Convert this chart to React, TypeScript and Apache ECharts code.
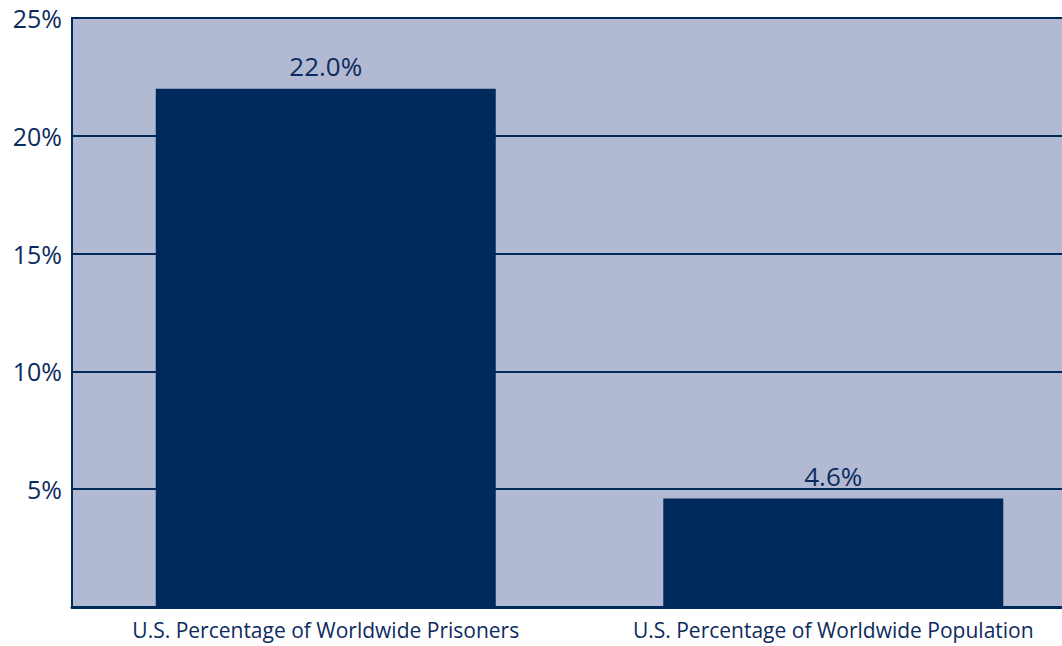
import React, { useEffect, useRef } from "react";
import * as echarts from "echarts";

const categories = [
  "U.S. Percentage of Worldwide Prisoners",
  "U.S. Percentage of Worldwide Population",
];
const values = [22.0, 4.6];
const valueLabels = ["22.0%", "4.6%"];
const yTicks = [0, 5, 10, 15, 20, 25];

const NAVY = "#002a5c";
const TEXT = "#0d2b5e";
const FONT = "'Open Sans', Lato, sans-serif";

export default function App() {
  const ref = useRef<HTMLDivElement>(null);
  useEffect(() => {
    document.body.style.margin = "0";
    document.body.style.overflow = "hidden";
    document.documentElement.style.overflow = "hidden";
    if (!ref.current) return;
    const chart = echarts.init(ref.current, undefined, { renderer: "svg" });
    chart.setOption({
      animation: false,
      grid: {
        left: 72,
        top: 18,
        bottom: 39,
        right: 13,
        show: true,
        backgroundColor: "#b2b9d3",
        borderColor: NAVY,
        borderWidth: 2,
      },
      xAxis: {
        type: "category",
        data: categories,
        axisLine: { show: true, lineStyle: { color: NAVY, width: 3 } },
        axisTick: { show: false },
        axisLabel: {
          interval: 0,
          hideOverlap: false,
          color: TEXT,
          fontFamily: FONT,
          fontSize: 21,
          margin: 12,
        },
      },
      yAxis: {
        type: "value",
        min: yTicks[0],
        max: yTicks[yTicks.length - 1],
        interval: 5,
        axisLine: { show: true, lineStyle: { color: NAVY, width: 2 } },
        axisTick: { show: false },
        splitLine: { show: true, lineStyle: { color: NAVY, width: 2 } },
        axisLabel: {
          color: TEXT,
          fontFamily: FONT,
          fontSize: 25,
          margin: 10,
          formatter: (v: number) => (v === 0 ? "" : v + "%"),
        },
      },
      series: [
        {
          type: "bar",
          data: values,
          barWidth: 340,
          itemStyle: { color: NAVY },
          label: {
            show: true,
            position: "top",
            distance: 10,
            color: TEXT,
            fontFamily: FONT,
            fontSize: 26,
            formatter: (p: any) => valueLabels[p.dataIndex],
          },
        },
      ],
    });
    return () => chart.dispose();
  }, []);
  return <div ref={ref} style={{ width: 1100, height: 646 }} />;
}
